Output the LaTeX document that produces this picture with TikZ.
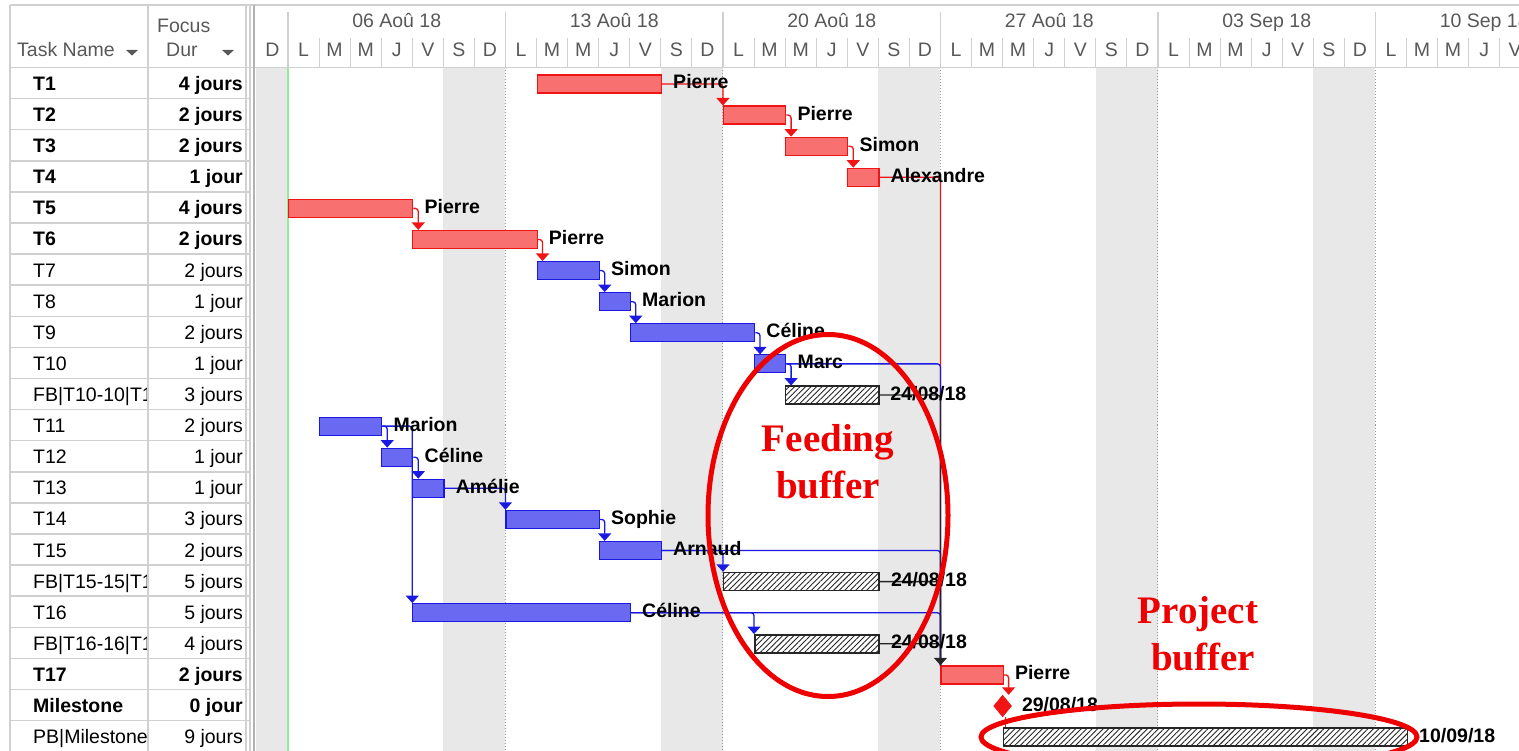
\documentclass[tikz,border=0pt]{standalone}
\usepackage{fontspec}
\setmainfont{Liberation Sans}
\newfontfamily\tnrfont{Liberation Serif}
\usetikzlibrary{arrows.meta,shapes.geometric,patterns.meta}
\definecolor{gridc}{RGB}{208,208,208}
\definecolor{wkend}{RGB}{232,232,232}
\definecolor{hdrtxt}{RGB}{88,88,88}
\definecolor{cred}{RGB}{240,20,20}
\definecolor{credfill}{RGB}{248,112,112}
\definecolor{cblue}{RGB}{25,25,225}
\definecolor{cbluefill}{RGB}{105,105,242}
\definecolor{ellred}{RGB}{238,0,0}
\definecolor{lgreen}{RGB}{150,235,150}
\newcommand{\FS}{\fontsize{19.5}{22}\selectfont}
\newcommand{\DX}[1]{288+31.07*(#1)}
\newcommand{\RY}[1]{84+31.1*(#1)}
\begin{document}
\begin{tikzpicture}[x=1pt,y=-1pt,
  bar/.style={minimum height=18pt, inner sep=0pt, anchor=west, line width=1.2pt},
  days/.style={minimum width=#1*31.07pt},
  rbar/.style={bar, draw=cred, fill=credfill},
  bbar/.style={bar, draw=cblue, fill=cbluefill},
  hbar/.style={bar, draw=black!85, line width=1.5pt, preaction={fill=white}, pattern={Lines[angle=45,distance=3.9pt,line width=0.9pt]}, pattern color=black!85},
  lbl/.style={font=\FS\bfseries, anchor=base west, inner sep=0pt},
  hdr/.style={font=\FS, text=hdrtxt, inner sep=0pt},
  rlink/.style={draw=cred, line width=1.3pt, rounded corners=3pt},
  blink/.style={draw=cblue, line width=1.3pt, rounded corners=3pt},
  klink/.style={draw=black!85, line width=1.3pt, rounded corners=3pt},
  arr/.style={-{Triangle[width=13pt,length=7.5pt]}},
  bigred/.style={font=\tnrfont\bfseries\fontsize{39}{46}\selectfont, text=ellred, anchor=base, inner sep=0pt}
]
\useasboundingbox (0,0) rectangle (1519,751);
\clip (0,0) rectangle (1519,751);

% ---- chart background ----
\fill[wkend] (256,67.5) rectangle (288,751);
\foreach \w in {0,...,4} \fill[wkend] ({\DX{7*\w+5}},67.5) rectangle ({\DX{7*\w+7}},751);
\foreach \w in {1,...,5} \draw[black!40, dotted, line width=1pt] ({\DX{7*\w}},67.5) -- ({\DX{7*\w}},751);
\draw[lgreen, line width=1.2pt] (288,67.5) -- (288,751);

% ---- header ----
\draw[gridc, line width=1.5pt] (10,5) -- (1519,5);
\draw[gridc, line width=1.5pt] (10,67.5) -- (1519,67.5);
\foreach \w in {0,...,5} \draw[gridc, line width=1.2pt] ({\DX{7*\w}},12) -- ({\DX{7*\w}},67.5);
\foreach \d in {1,...,6,8,9,...,13,15,16,...,20,22,23,...,27,29,30,...,34,36,37,...,39}
  \draw[gridc, line width=1pt] ({\DX{\d}},38) -- ({\DX{\d}},67.5);
\foreach \L [count=\k from 0] in {D,L,M,M,J,V,S,D,L,M,M,J,V,S,D,L,M,M,J,V,S,D,L,M,M,J,V,S,D,L,M,M,J,V,S,D,L,M,M,J,V}
  \node[hdr, anchor=base] (dl\k) at ({\DX{\k-1}+15.5},56.5) {\L};
\foreach \W [count=\k from 0] in {06 Aoû 18,13 Aoû 18,20 Aoû 18,27 Aoû 18,03 Sep 18,10 Sep 18}
  \node[hdr, anchor=base] (wk\k) at ({\DX{7*\k}+108.75},28) {\W};

% ---- table ----
\foreach \yy in {0,...,22} \draw[gridc, line width=1.5pt] (10,{67.5+31.1*\yy}) -- (250,{67.5+31.1*\yy});
\foreach \xx in {10,148,246,250} \draw[gridc, line width=1.5pt] (\xx,5) -- (\xx,751);
\draw[black!30, line width=2.5pt] (254,5) -- (254,751);
\node[hdr, anchor=base west] (hname) at (17,56.5) {Task Name};
\node[hdr, anchor=base west] (hfocus) at (157,33) {Focus};
\node[hdr, anchor=base west] (hdur) at (166,56.5) {Dur};
\fill[hdrtxt] (126,50) -- (138,50) -- (132,55.5) -- cycle;
\fill[hdrtxt] (222,50) -- (234,50) -- (228,55.5) -- cycle;
\begin{scope}
\clip (10,67.5) rectangle (146.5,751);
\foreach \nm/\ft [count=\i from 0] in {T1/\bfseries,T2/\bfseries,T3/\bfseries,T4/\bfseries,T5/\bfseries,T6/\bfseries,T7/\mdseries,T8/\mdseries,T9/\mdseries,T10/\mdseries,FB|T10-10|T17/\mdseries,T11/\mdseries,T12/\mdseries,T13/\mdseries,T14/\mdseries,T15/\mdseries,FB|T15-15|T17/\mdseries,T16/\mdseries,FB|T16-16|T17/\mdseries,T17/\bfseries,Milestone/\bfseries,PB|Milestone/\mdseries}
  \node[font=\FS\ft, anchor=base west, inner sep=0pt] (tn\i) at (33,{90.5+31.1*\i}) {\nm};
\end{scope}
\foreach \du/\ft [count=\i from 0] in {4 jours/\bfseries,2 jours/\bfseries,2 jours/\bfseries,1 jour/\bfseries,4 jours/\bfseries,2 jours/\bfseries,2 jours/\mdseries,1 jour/\mdseries,2 jours/\mdseries,1 jour/\mdseries,3 jours/\mdseries,2 jours/\mdseries,1 jour/\mdseries,1 jour/\mdseries,3 jours/\mdseries,2 jours/\mdseries,5 jours/\mdseries,5 jours/\mdseries,4 jours/\mdseries,2 jours/\bfseries,0 jour/\bfseries,9 jours/\mdseries}
  \node[font=\FS\ft, anchor=base east, inner sep=0pt] (td\i) at (243,{90.5+31.1*\i}) {\du};

% ---- bars ----
\node[rbar, days=4] (t1) at ({\DX{8}},{\RY{0}}) {};
\node[rbar, days=2] (t2) at ({\DX{14}},{\RY{1}}) {};
\node[rbar, days=2] (t3) at ({\DX{16}},{\RY{2}}) {};
\node[rbar, days=1] (t4) at ({\DX{18}},{\RY{3}}) {};
\node[rbar, days=4] (t5) at ({\DX{0}},{\RY{4}}) {};
\node[rbar, days=4] (t6) at ({\DX{4}},{\RY{5}}) {};
\node[bbar, days=2] (t7) at ({\DX{8}},{\RY{6}}) {};
\node[bbar, days=1] (t8) at ({\DX{10}},{\RY{7}}) {};
\node[bbar, days=4] (t9) at ({\DX{11}},{\RY{8}}) {};
\node[bbar, days=1] (t10) at ({\DX{15}},{\RY{9}}) {};
\node[hbar, days=3] (fb10) at ({\DX{16}},{\RY{10}}) {};
\node[bbar, days=2] (t11) at ({\DX{1}},{\RY{11}}) {};
\node[bbar, days=1] (t12) at ({\DX{3}},{\RY{12}}) {};
\node[bbar, days=1] (t13) at ({\DX{4}},{\RY{13}}) {};
\node[bbar, days=3] (t14) at ({\DX{7}},{\RY{14}}) {};
\node[bbar, days=2] (t15) at ({\DX{10}},{\RY{15}}) {};
\node[hbar, days=5] (fb15) at ({\DX{14}},{\RY{16}}) {};
\node[bbar, days=7] (t16) at ({\DX{4}},{\RY{17}}) {};
\node[hbar, days=4] (fb16) at ({\DX{15}},{\RY{18}}) {};
\node[rbar, days=2] (t17) at ({\DX{21}},{\RY{19}}) {};
\node[diamond, aspect=0.86, fill=cred, draw=cred, minimum width=18pt, minimum height=22pt, inner sep=0pt] (ms) at ({\DX{23}},{\RY{20}}) {};
\node[hbar, days=13] (pb) at ({\DX{23}},{\RY{21}}) {};

% ---- links ----
\draw[rlink, arr] (t1.east) -| (t2.north west);
\draw[rlink, arr] (t2.east) -| ([xshift=6pt]t3.north west);
\draw[rlink, arr] (t3.east) -| ([xshift=6pt]t4.north west);
\draw[rlink, arr] (t5.east) -| ([xshift=6pt]t6.north west);
\draw[rlink, arr] (t6.east) -| ([xshift=6pt]t7.north west);
\draw[blink, arr] (t7.east) -| ([xshift=6pt]t8.north west);
\draw[blink, arr] (t8.east) -| ([xshift=6pt]t9.north west);
\draw[blink, arr] (t9.east) -| ([xshift=6pt]t10.north west);
\draw[blink, arr] (t10.east) -| ([xshift=6pt]fb10.north west);
\draw[blink, arr] (t11.east) -| ([xshift=6pt]t12.north west);
\draw[blink, arr] (t11.east) -| (t16.north west);
\draw[blink, arr] (t12.east) -| ([xshift=6pt]t13.north west);
\draw[blink, arr] (t13.east) -| (t14.north west);
\draw[blink, arr] (t14.east) -| ([xshift=6pt]t15.north west);
\draw[blink, arr] (t15.east) -| (fb15.north west);
\draw[blink, arr] (t16.east) -| (fb16.north west);
\draw[rlink] (t4.east) -| (t17.north west);
\draw[blink] (t10.east) -| (t17.north west);
\draw[blink] (t15.east) -| (t17.north west);
\draw[blink] (t16.east) -| (t17.north west);
\draw[klink] (fb10.east) -| (t17.north west);
\draw[klink] (fb15.east) -| (t17.north west);
\draw[klink, arr] (fb16.east) -| (t17.north west);
\draw[rlink, arr] (t17.east) -| ([xshift=6pt]ms.north);
\draw[rlink] ([xshift=3pt]ms.south) -- ([xshift=3pt]ms.south |- pb.north);

% ---- labels ----
\node[lbl] (l1) at ([xshift=11pt,yshift=-5pt]t1.east) {Pierre};
\node[lbl] (l2) at ([xshift=11pt,yshift=-5pt]t2.east) {Pierre};
\node[lbl] (l3) at ([xshift=11pt,yshift=-5pt]t3.east) {Simon};
\node[lbl] (l4) at ([xshift=11pt,yshift=-5pt]t4.east) {Alexandre};
\node[lbl] (l5) at ([xshift=11pt,yshift=-5pt]t5.east) {Pierre};
\node[lbl] (l6) at ([xshift=11pt,yshift=-5pt]t6.east) {Pierre};
\node[lbl] (l7) at ([xshift=11pt,yshift=-5pt]t7.east) {Simon};
\node[lbl] (l8) at ([xshift=11pt,yshift=-5pt]t8.east) {Marion};
\node[lbl] (l9) at ([xshift=11pt,yshift=-5pt]t9.east) {Céline};
\node[lbl] (l10) at ([xshift=11pt,yshift=-5pt]t10.east) {Marc};
\node[lbl] (lfb10) at ([xshift=11pt,yshift=-5pt]fb10.east) {24/08/18};
\node[lbl] (l11) at ([xshift=11pt,yshift=-5pt]t11.east) {Marion};
\node[lbl] (l12) at ([xshift=11pt,yshift=-5pt]t12.east) {Céline};
\node[lbl] (l13) at ([xshift=11pt,yshift=-5pt]t13.east) {Amélie};
\node[lbl] (l14) at ([xshift=11pt,yshift=-5pt]t14.east) {Sophie};
\node[lbl] (l15) at ([xshift=11pt,yshift=-5pt]t15.east) {Arnaud};
\node[lbl] (lfb15) at ([xshift=11pt,yshift=-5pt]fb15.east) {24/08/18};
\node[lbl] (l16) at ([xshift=11pt,yshift=-5pt]t16.east) {Céline};
\node[lbl] (lfb16) at ([xshift=11pt,yshift=-5pt]fb16.east) {24/08/18};
\node[lbl] (l17) at ([xshift=11pt,yshift=-5pt]t17.east) {Pierre};
\node[lbl] (lms) at ([xshift=10pt,yshift=-5pt]ms.east) {29/08/18};
\node[lbl] (lpb) at ([xshift=11pt,yshift=-5pt]pb.east) {10/09/18};

% ---- annotations ----
\draw[ellred, line width=5pt] (828,515.5) ellipse [x radius=120pt, y radius=181pt];
\node[bigred] (feed1) at (828,451) {Feeding};
\node[bigred] (feed2) at (828,498) {buffer};
\draw[ellred, line width=5pt] (1199,737) ellipse [x radius=218pt, y radius=33pt];
\node[bigred] (proj1) at (1198,623) {Project};
\node[bigred] (proj2) at (1203,670) {buffer};
\end{tikzpicture}
\end{document}
